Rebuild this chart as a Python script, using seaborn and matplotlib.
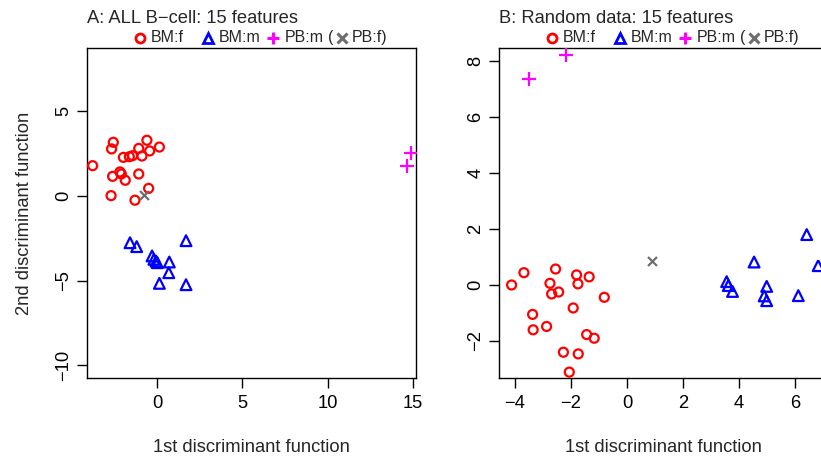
import numpy as np
import pandas as pd
import matplotlib
matplotlib.use("Agg")
import matplotlib.pyplot as plt
import seaborn as sns

# ---- data ----
# panel A: ALL B-cell
a_bmf_x = [-3.77, -2.56, -2.66, -1.97, -1.62, -1.43, -1.07, -0.88, -0.59, -0.43, 0.14,
           -2.60, -2.17, -2.09, -1.86, -1.07, -0.49, -2.69, -1.29]
a_bmf_y = [1.79, 3.17, 2.78, 2.28, 2.32, 2.38, 2.81, 2.36, 3.29, 2.66, 2.89,
           1.16, 1.42, 1.30, 0.93, 1.30, 0.45, 0.02, -0.25]
a_bmm_x = [-1.58, -1.19, 1.70, -0.29, -0.18, 0.02, 0.72, 0.69, 0.14, 1.70, -0.05]
a_bmm_y = [-2.76, -2.99, -2.64, -3.54, -3.74, -3.94, -3.90, -4.53, -5.16, -5.24, -3.85]
a_pbm_x = [14.86, 14.67]
a_pbm_y = [2.52, 1.79]
a_pbf_x = [-0.74]
a_pbf_y = [0.04]

# panel B: random data
b_bmf_x = [-4.12, -3.68, -2.55, -1.80, -1.35, -2.75, -1.75, -2.69, -2.44, -0.81,
           -1.92, -3.37, -2.87, -3.35, -1.44, -1.17, -2.27, -1.74, -2.06]
b_bmf_y = [0.00, 0.44, 0.57, 0.36, 0.29, 0.06, 0.04, -0.32, -0.25, -0.44,
           -0.82, -1.05, -1.48, -1.60, -1.77, -1.90, -2.40, -2.46, -3.11]
b_bmm_x = [6.42, 4.54, 6.83, 3.56, 3.62, 3.77, 4.99, 4.90, 4.99, 6.12]
b_bmm_y = [1.80, 0.82, 0.69, 0.12, -0.02, -0.23, -0.05, -0.39, -0.56, -0.38]
b_pbm_x = [-2.18, -3.49]
b_pbm_y = [8.21, 7.35]
b_pbf_x = [0.90]
b_pbf_y = [0.85]

groups = ["BM:f", "BM:m", "PB:m", "PB:f"]
titles = ["A: ALL B\u2212cell: 15 features", "B: Random data: 15 features"]
xticks_a = [0, 5, 10, 15]
yticks_a = [-10, -5, 0, 5]
xticks_b = [-4, -2, 0, 2, 4, 6]
yticks_b = [-2, 0, 2, 4, 6, 8]


def make_df(bx, by, mx, my, px, py, fx, fy):
    rows = []
    for g, xs, ys in zip(groups, [bx, mx, px, fx], [by, my, py, fy]):
        for x, y in zip(xs, ys):
            rows.append((x, y, g))
    return pd.DataFrame(rows, columns=["ld1", "ld2", "group"])


def rotulo(v):
    return str(v).replace("-", "\u2212")


df_a = make_df(a_bmf_x, a_bmf_y, a_bmm_x, a_bmm_y, a_pbm_x, a_pbm_y, a_pbf_x, a_pbf_y)
df_b = make_df(b_bmf_x, b_bmf_y, b_bmm_x, b_bmm_y, b_pbm_x, b_pbm_y, b_pbf_x, b_pbf_y)

# ---- styles ----
sns.set_style("white")
plt.rcParams["font.family"] = ["Liberation Sans", "DejaVu Sans"]

estilo = {
    "BM:f": dict(marker="o", color="#FF0000", s=42, filled=True, ms=6.5, mew=2.0),
    "BM:m": dict(marker="^", color="#0000FF", s=60, filled=True, ms=7.0, mew=2.0),
    "PB:m": dict(marker="+", color="#FF00FF", s=100, filled=False, ms=8.5, mew=2.2),
    "PB:f": dict(marker="x", color="#6E6E6E", s=42, filled=False, ms=6.5, mew=2.2),
}

# legend layout (axes fraction): marker x, text x
leg_marker_x = [0.162, 0.367, 0.566, 0.775]
leg_text_x = [0.193, 0.399, 0.600, 0.806]
leg_text = ["BM:f", "BM:m", "PB:m", "PB:f)"]
leg_paren_x = 0.740
leg_y = 1.031

fig = plt.figure(figsize=(8.21, 4.57), dpi=100)
ax_a = fig.add_axes([87 / 821, 1 - 378 / 457, 329 / 821, 330 / 457])
ax_b = fig.add_axes([499 / 821, 1 - 378 / 457, 329 / 821, 330 / 457])

painel = [
    (ax_a, df_a, (-4.1, 15.17), (-10.75, 8.74), xticks_a, yticks_a),
    (ax_b, df_b, (-4.57, 7.18), (-3.32, 8.46), xticks_b, yticks_b),
]

for i, (ax, df, xl, yl, xt, yt) in enumerate(painel):
    for g in groups:
        st = estilo[g]
        sub = df[df["group"] == g]
        if st["filled"]:
            sns.scatterplot(data=sub, x="ld1", y="ld2", marker=st["marker"], s=st["s"],
                            color=st["color"], facecolor="none", edgecolor=st["color"],
                            linewidth=1.6, ax=ax, legend=False, zorder=3)
        else:
            sns.scatterplot(data=sub, x="ld1", y="ld2", marker=st["marker"], s=st["s"],
                            color=st["color"], linewidth=1.6, ax=ax, legend=False, zorder=3)
    ax.set_xlim(*xl)
    ax.set_ylim(*yl)
    ax.set_xticks(xt, [rotulo(v) for v in xt], fontsize=13.2)
    ax.set_yticks(yt, [rotulo(v) for v in yt], fontsize=13.2, rotation=90, va="center")
    ax.tick_params(axis="both", direction="out", length=7, width=1.0, color="black",
                   labelcolor="black", bottom=True, left=True)
    ax.tick_params(axis="x", pad=5)
    ax.tick_params(axis="y", pad=3.5)
    for sp in ax.spines.values():
        sp.set_visible(True)
        sp.set_color("black")
        sp.set_linewidth(1.0)
    ax.set_xlabel("1st discriminant function", fontsize=13.2, labelpad=19.5)
    ax.set_ylabel("2nd discriminant function" if i == 0 else "", fontsize=13.2, labelpad=16)
    ax.set_title(titles[i], loc="left", fontsize=13.2, pad=18)

    # legend row above the box, drawn like R's horizontal legend
    for g, mx, tx, lab in zip(groups, leg_marker_x, leg_text_x, leg_text):
        st = estilo[g]
        if st["filled"]:
            ax.plot([mx], [leg_y], transform=ax.transAxes, clip_on=False, linestyle="none",
                    marker=st["marker"], markersize=st["ms"], markerfacecolor="none",
                    markeredgecolor=st["color"], markeredgewidth=st["mew"])
        else:
            ax.plot([mx], [leg_y], transform=ax.transAxes, clip_on=False, linestyle="none",
                    marker=st["marker"], markersize=st["ms"], color=st["color"],
                    markeredgewidth=st["mew"])
        ax.text(tx, leg_y, lab, transform=ax.transAxes, ha="left", va="center", fontsize=11.5)
    ax.text(leg_paren_x, leg_y, "(", transform=ax.transAxes, ha="center", va="center",
            fontsize=11.5)

fig.savefig("out.png", dpi=100)
